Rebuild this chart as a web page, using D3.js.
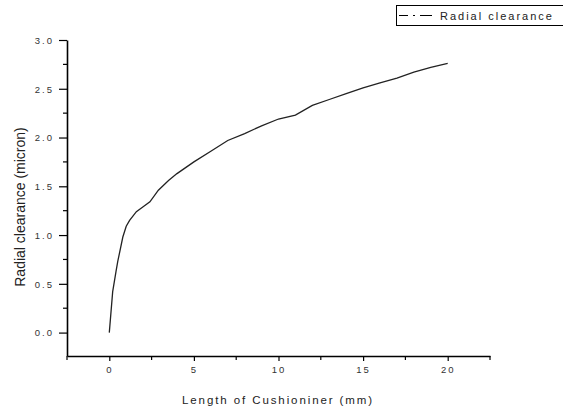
<!DOCTYPE html>
<head>
    <meta charset="utf-8">
    <script src="https://d3js.org/d3.v7.min.js"></script>
    <style>
      body { margin: 0; background: #fff; }
      text { font-family: "Liberation Sans", Arial, sans-serif; fill: #222; }
      .ticklabel { font-size: 9.5px; letter-spacing: 2px; fill: #333; }
      .xtitle { font-size: 11.5px; letter-spacing: 1.9px; }
      .ytitle { font-size: 14px; }
      .legendtext { font-size: 11px; letter-spacing: 2px; }
    </style>
<body>
    <script>
        // curve
        var lengthMm = [0, 0.2, 0.4, 0.5, 0.8, 1.0, 1.2, 1.6, 2.0, 2.4, 2.9, 3.5, 4.0, 5.0, 6.0, 7.0, 8.0, 9.0, 10.0, 11.0, 12.0, 13.0, 14.0, 15.0, 16.0, 17.0, 18.0, 19.0, 20.0];
        var clearance = [0, 0.42, 0.63, 0.73, 0.98, 1.09, 1.15, 1.24, 1.29, 1.34, 1.46, 1.56, 1.63, 1.75, 1.86, 1.97, 2.04, 2.12, 2.19, 2.23, 2.33, 2.39, 2.45, 2.51, 2.56, 2.61, 2.67, 2.72, 2.76];
        var xTicks = [0, 5, 10, 15, 20];
        var xMinor = [-2.5, 2.5, 7.5, 12.5, 17.5, 22.5];
        var yTicks = [0.0, 0.5, 1.0, 1.5, 2.0, 2.5, 3.0];
        var yMinor = [0.25, 0.75, 1.25, 1.75, 2.25, 2.75];
        var seriesName = "Radial clearance";

        var svg = d3.select("body").append("svg")
          .attr("width", 563)
          .attr("height", 410);

        var x = d3.scaleLinear().domain([-2.5, 22.5]).range([67, 490]);
        var y = d3.scaleLinear().domain([-0.24, 3.0]).range([356, 40]);

        // y axis
        var yAxis = svg.append("g")
          .attr("transform", "translate(" + x(-2.5) + ",0)")
          .call(d3.axisLeft(y).tickValues(yTicks).tickSize(8).tickSizeOuter(0).tickFormat(d3.format(".1f")));
        yAxis.select(".domain").attr("stroke", "#000").attr("stroke-width", 1.6);
        yAxis.selectAll(".tick line").attr("stroke", "#000").attr("stroke-width", 1.2);
        yAxis.selectAll(".tick text").attr("class", "ticklabel").attr("x", -13).attr("dy", "0.35em")
          .attr("font-family", null).attr("font-size", null).attr("fill", null);
        svg.append("g").selectAll("line").data(yMinor).enter().append("line")
          .attr("x1", x(-2.5) - 4).attr("x2", x(-2.5))
          .attr("y1", function(d) { return y(d); }).attr("y2", function(d) { return y(d); })
          .attr("stroke", "#000").attr("stroke-width", 1.2);

        // x axis
        var xAxis = svg.append("g")
          .attr("transform", "translate(0," + y(-0.24) + ")")
          .call(d3.axisBottom(x).tickValues(xTicks).tickSize(5).tickSizeOuter(0).tickFormat(d3.format("d")));
        xAxis.select(".domain").attr("stroke", "#000").attr("stroke-width", 1.6);
        xAxis.selectAll(".tick line").attr("stroke", "#000").attr("stroke-width", 1.2);
        xAxis.selectAll(".tick text").attr("class", "ticklabel").attr("y", 14).attr("dy", "0.35em")
          .attr("font-family", null).attr("font-size", null).attr("fill", null);
        svg.append("g").selectAll("line").data(xMinor).enter().append("line")
          .attr("x1", function(d) { return x(d); }).attr("x2", function(d) { return x(d); })
          .attr("y1", y(-0.24)).attr("y2", y(-0.24) + 4)
          .attr("stroke", "#000").attr("stroke-width", 1.2);

        // titles
        svg.append("text").attr("class", "xtitle")
          .attr("x", 278).attr("y", 404).attr("text-anchor", "middle")
          .text("Length of Cushioniner (mm)");
        svg.append("text").attr("class", "ytitle")
          .attr("transform", "translate(25,207) rotate(-90)").attr("text-anchor", "middle")
          .text("Radial clearance (micron)");

        // curve
        var pts = lengthMm.map(function(d, i) { return [d, clearance[i]]; });
        svg.append("path").datum(pts)
          .attr("fill", "none").attr("stroke", "#222").attr("stroke-width", 1.3)
          .attr("d", d3.line().x(function(d) { return x(d[0]); }).y(function(d) { return y(d[1]); }));

        // legend
        var lg = svg.append("g");
        lg.append("rect").attr("x", 396.5).attr("y", 5.5).attr("width", 170).attr("height", 20)
          .attr("fill", "#fff").attr("stroke", "#000").attr("stroke-width", 1);
        lg.append("line").attr("x1", 399).attr("x2", 432).attr("y1", 15.5).attr("y2", 15.5)
          .attr("stroke", "#000").attr("stroke-width", 1.2).attr("stroke-dasharray", "9,5,2,5,12");
        lg.append("text").attr("class", "legendtext").attr("x", 440).attr("y", 19.5).text(seriesName);
    </script>
</body>
